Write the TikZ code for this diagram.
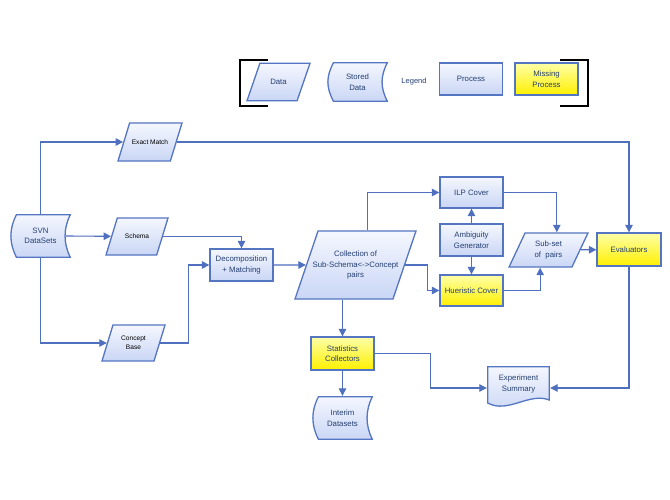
\documentclass[tikz,border=0pt]{standalone}
\usepackage{fontspec}
\setmainfont{Liberation Sans}
\usetikzlibrary{arrows.meta,shapes.geometric,positioning,calc}

\definecolor{boxline}{HTML}{5475C2}
\definecolor{flowline}{HTML}{4E70BF}
\definecolor{proctop}{HTML}{F5F7FE}
\definecolor{procbot}{HTML}{C9D6F5}
\definecolor{yeltop}{HTML}{FFFFA8}
\definecolor{yelbot}{HTML}{FFF000}
\definecolor{navy}{HTML}{243F73}

\tikzset{
  base/.style={draw=boxline, line width=1.3pt, top color=proctop, bottom color=procbot,
    text=navy, font=\fontsize{7.8}{10.5}\selectfont, align=center, inner sep=1pt},
  process/.style={base, rectangle, minimum width=63pt, minimum height=32pt},
  missing/.style={process, top color=yeltop, bottom color=yelbot},
  data/.style={base, trapezium, trapezium left angle=#1, trapezium right angle={180-#1},
    trapezium stretches body, minimum width=64pt},
  data/.default=73,
  plain data/.style={data, text=black, font=\fontsize{6.6}{9}\selectfont},
  stored/.style={rectangle, minimum width=61pt, minimum height=44pt, inner sep=1pt,
    text=navy, font=\fontsize{7.8}{10.5}\selectfont, align=center,
    path picture={
      \path[draw=boxline, line width=1.3pt, top color=proctop, bottom color=procbot]
        ([shift={(6.5pt,-0.7pt)}]path picture bounding box.north west)
        -- ([shift={(-0.7pt,-0.7pt)}]path picture bounding box.north east)
        .. controls +(-7pt,-14pt) and +(-7pt,14pt) ..
        ([shift={(-0.7pt,0.7pt)}]path picture bounding box.south east)
        -- ([shift={(6.5pt,0.7pt)}]path picture bounding box.south west)
        .. controls +(-7.5pt,14pt) and +(-7.5pt,-14pt) ..
        ([shift={(6.5pt,-0.7pt)}]path picture bounding box.north west) -- cycle;
    }},
  report/.style={rectangle, minimum width=63pt, minimum height=44pt, inner sep=0pt,
    path picture={
      \path[draw=boxline, line width=1.3pt, top color=proctop, bottom color=procbot]
        ([shift={(0.7pt,-0.7pt)}]path picture bounding box.north west)
        -- ([shift={(-0.7pt,-0.7pt)}]path picture bounding box.north east)
        -- ([shift={(-0.7pt,10pt)}]path picture bounding box.south east)
        .. controls +(-20pt,8pt) and +(20pt,-11pt) ..
        ([shift={(0.7pt,7pt)}]path picture bounding box.south west) -- cycle;
    }},
  report text/.style={text=navy, font=\fontsize{7.8}{10.5}\selectfont, align=center, yshift=4pt},
  flow/.style={draw=flowline, line width=1.1pt, -{Triangle[length=7.5pt,width=7.5pt]}},
  bracket/.style={draw=black, line width=2.6pt}
}

\begin{document}
\begin{tikzpicture}[x=1pt, y=-1pt, node distance=60pt, on grid]
\path[use as bounding box, fill=white] (0,0) rectangle (670,500);

% legend
\node[data=71, inner ysep=16pt, minimum width=63pt] (legdata) at (278.5,82) {Data};
\node[stored, minimum height=40pt] (legstored) [right=79pt of legdata] {Stored\\Data};
\node[text=navy, font=\fontsize{7.5}{9}\selectfont] (legtitle) at (414,82) {Legend};
\node[process] (legproc) at (471,79) {Process};
\node[missing] (legmiss) [right=75.5pt of legproc] {Missing\\Process};
\draw[bracket] (268,60) -| (240,106) -- (268,106);
\draw[bracket] (560,60) -| (588,106) -- (560,106);

% inputs
\node[stored] (svn) at (40.5,236) {SVN\\DataSets};
\node[plain data, inner ysep=16.6pt] (exact) at (150,142) {Exact Match};
\node[plain data, inner ysep=16.1pt, minimum width=62pt] (schema) at (137,236.5) {Schema};
\node[plain data, inner ysep=11.1pt, minimum width=63pt] (concept) at (133.5,343) {Concept\\Base};

% processing
\node[process] (decomp) at (241.5,265) {Decomposition\\+ Matching};
\node[data=71.3, inner ysep=19.9pt, inner xsep=-7pt, minimum width=121pt] (coll) at (355.5,265)
  {Collection of\\Sub-Schema<->Concept\\pairs};
\node[process, minimum height=31pt] (ilp) at (471.5,192.5) {ILP Cover};
\node[process] (amb) [below=47.5pt of ilp] {Ambiguity\\Generator};
\node[missing, minimum height=31pt] (hue) [below=50.5pt of amb] {Hueristic Cover};
\node[data=64.8, inner ysep=8.2pt, minimum width=79pt] (subset) at (548.5,250) {Sub-set\\of \ pairs};
\node[missing, minimum width=64pt, minimum height=33pt] (eval) at (629,249.5) {Evaluators};

% outputs
\node[missing, minimum height=33pt] (stats) at (342.5,353.5) {Statistics\\Collectors};
\node[report, label={[report text]center:Experiment\\Summary}] (expsum) at (518.5,388) {};
\node[stored] (interim) [below=64.5pt of stats] {Interim\\Datasets};

% connectors
\draw[flow] (svn) |- (exact);
\draw[flow] (exact) -| (eval);
\draw[flow] ([xshift=-5pt]svn.east) -- (schema);
\draw[flow] (schema) -| (decomp);
\draw[flow] (svn) |- (concept);
\draw[flow] (concept.east) -- ++(28,0) |- (decomp);
\draw[flow] (decomp) -- (coll);
\draw[flow] (coll.top side) |- (ilp);
\draw[flow] (coll.right side) -- ++(22,0) |- (hue);
\draw[flow] (amb) -- (ilp);
\draw[flow] (amb) -- (hue);
\draw[flow] (ilp) -| (subset.top side);
\draw[flow] (hue) -| (subset.bottom side);
\draw[flow] (subset) -- (eval);
\draw[flow] (eval) |- (expsum);
\draw[flow] (coll.bottom side -| stats) -- (stats);
\draw[flow] (stats.east) -- ++(56,0) |- (expsum);
\draw[flow] (stats) -- (interim);
\end{tikzpicture}
\end{document}
